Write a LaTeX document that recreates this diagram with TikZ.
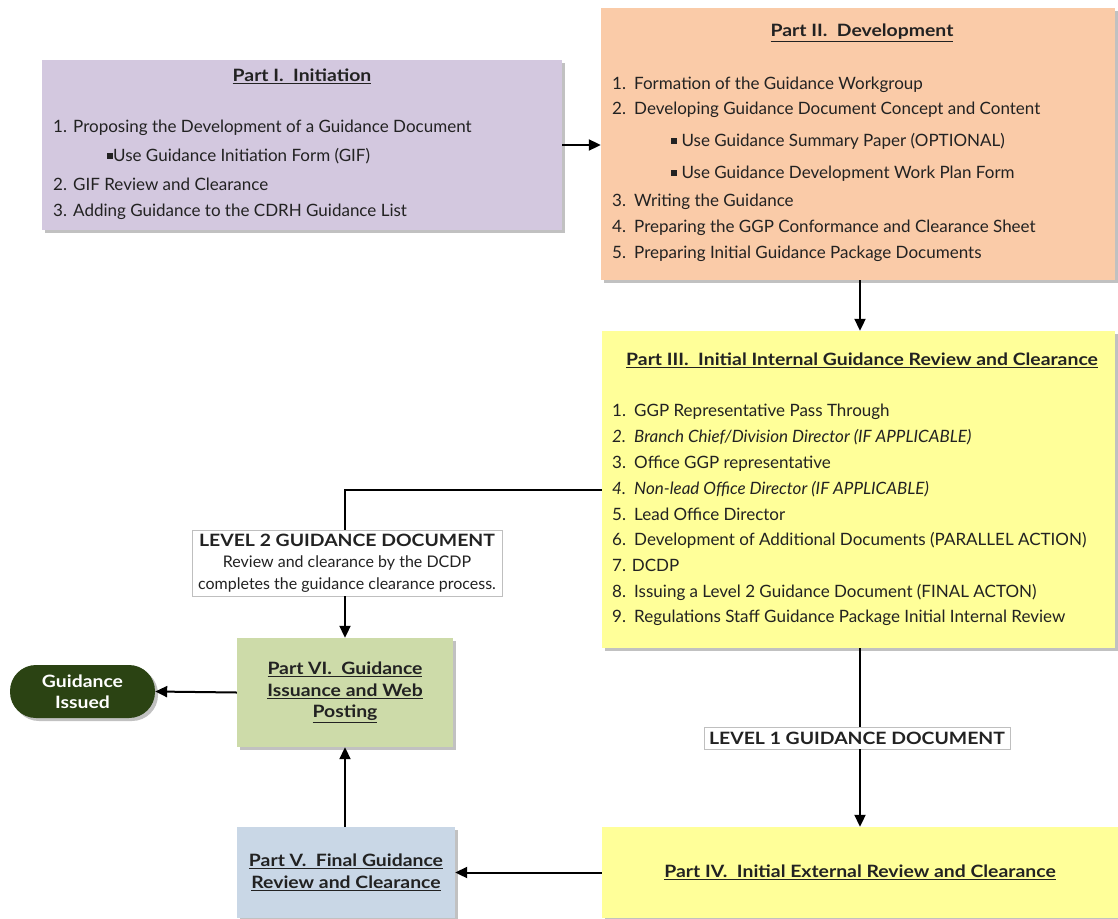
\documentclass[tikz,border=0pt]{standalone}
\usepackage{fontspec}
\setmainfont{Lato}
\newfontfamily\bwide[FakeStretch=1.14]{Lato}
\usetikzlibrary{arrows.meta,shadows}
\definecolor{lav}{HTML}{D3C8DF}
\definecolor{peach}{HTML}{FACBA8}
\definecolor{yel}{HTML}{FFFF99}
\definecolor{grn}{HTML}{CDDBA9}
\definecolor{blu}{HTML}{C9D7E6}
\definecolor{dgrn}{HTML}{2B4313}
\definecolor{txt}{HTML}{222222}
\begin{document}
\begin{tikzpicture}[x=1pt,y=-1pt,
 box/.style={draw=none, inner sep=0pt, text=txt, align=center,
   drop shadow={shadow xshift=3pt,shadow yshift=-3pt,fill=black!30,opacity=0.8}},
 ttl/.style={font=\fontsize{17}{20}\bwide\bfseries, inner sep=0pt, text=txt},
 item/.style={font=\fontsize{17}{20}\selectfont, inner sep=0pt, anchor=west, text height=12pt, text depth=4pt, text=txt},
 lbl/.style={draw=black!25, fill=white, inner sep=0pt, align=center, text=txt},
 arr/.style={line width=2pt, -{Triangle[length=12pt,width=11pt]}},
 ln/.style={line width=2pt}]
\path[use as bounding box] (0,0) rectangle (1118,918);

% boxes
\node[box, fill=lav, minimum width=520pt, minimum height=170pt] (p1) at (302,145) {};
\node[box, fill=peach, minimum width=514pt, minimum height=272pt] (p2) at (858,144) {};
\node[box, fill=yel, minimum width=513pt, minimum height=317pt] (p3) at (858.5,489.5) {};
\node[box, fill=yel, minimum width=516pt, minimum height=91pt,
  font=\fontsize{17}{20}\bwide\bfseries] (p4) at (860,872.5) {\underline{Part IV.\ \ Initial External Review and Clearance}};
\node[box, fill=blu, minimum width=218pt, minimum height=91pt,
  font=\fontsize{17}{22}\bwide\bfseries] (p5) at (346,872.5) {\underline{Part V.\ \ Final Guidance}\\\underline{Review and Clearance}};
\node[box, fill=grn, minimum width=216pt, minimum height=109pt,
  font=\fontsize{17}{21.5}\bwide\bfseries] (p6) at (345,692.5) {\underline{Part VI.\ \ Guidance}\\\underline{Issuance and Web}\\\underline{Posting}};
\node[box, fill=dgrn, text=white, rounded corners=26pt, minimum width=145pt, minimum height=53pt,
  font=\fontsize{17}{21}\bwide\bfseries] (gi) at (82.5,691.5) {Guidance\\Issued};

% Part I text
\node[ttl] (t1) at (302,76) {\underline{Part I.\ \ Initiation}};
\node[item] (a1n) at (53,128) {1.};
\node[item] (a1) at (73,128) {Proposing the Development of a Guidance Document};
\node[item] (a1b) at (107,157) {\rule[2pt]{6pt}{6pt}Use Guidance Initiation Form (GIF)};
\node[item] (a2n) at (53,186) {2.};
\node[item] (a2) at (73,186) {GIF Review and Clearance};
\node[item] (a3n) at (53,212) {3.};
\node[item] (a3) at (73,212) {Adding Guidance to the CDRH Guidance List};

% Part II text
\node[ttl] (t2) at (862,33) {\underline{Part II.\ \ Development}};
\node[item] (b1n) at (612,85) {1.};
\node[item] (b1) at (634,85) {Formation of the Guidance Workgroup};
\node[item] (b2n) at (612,110) {2.};
\node[item] (b2) at (634,110) {Developing Guidance Document Concept and Content};
\node[item] (b2a) at (671,142) {\rule[2pt]{6pt}{6pt}\ Use Guidance Summary Paper (OPTIONAL)};
\node[item] (b2b) at (671,174) {\rule[2pt]{6pt}{6pt}\ Use Guidance Development Work Plan Form};
\node[item] (b3n) at (612,202) {3.};
\node[item] (b3) at (634,202) {Writing the Guidance};
\node[item] (b4n) at (612,228) {4.};
\node[item] (b4) at (634,228) {Preparing the GGP Conformance and Clearance Sheet};
\node[item] (b5n) at (612,254) {5.};
\node[item] (b5) at (634,254) {Preparing Initial Guidance Package Documents};

% Part III text
\node[ttl] (t3) at (862,360) {\underline{Part III.\ \ Initial Internal Guidance Review and Clearance}};
\node[item] (c1n) at (612,412) {1.};
\node[item] (c1) at (634,412) {GGP Representative Pass Through};
\node[item] (c2n) at (612,438) {\itshape 2.};
\node[item] (c2) at (634,438) {\itshape Branch Chief/Division Director (IF APPLICABLE)};
\node[item] (c3n) at (612,464) {3.};
\node[item] (c3) at (634,464) {Office GGP representative};
\node[item] (c4n) at (612,490) {\itshape 4.};
\node[item] (c4) at (634,490) {\itshape Non-lead Office Director (IF APPLICABLE)};
\node[item] (c5n) at (612,516) {5.};
\node[item] (c5) at (634,516) {Lead Office Director};
\node[item] (c6n) at (612,541) {6.};
\node[item] (c6) at (634,541) {Development of Additional Documents (PARALLEL ACTION)};
\node[item] (c7) at (612,567) {7. DCDP};
\node[item] (c8n) at (612,593) {8.};
\node[item] (c8) at (634,593) {Issuing a Level 2 Guidance Document (FINAL ACTON)};
\node[item] (c9n) at (612,618) {9.};
\node[item] (c9) at (634,618) {Regulations Staff Guidance Package Initial Internal Review};

% labels
\node[lbl, minimum width=310pt, minimum height=66pt, font=\fontsize{16}{21.5}\selectfont] (l2) at (347,563)
  {{\bwide\bfseries\fontsize{17}{21.5}\selectfont LEVEL 2 GUIDANCE DOCUMENT}\\
   Review and clearance by the DCDP\\
   completes the guidance clearance process.};
\node[lbl, minimum width=306pt, minimum height=22pt, font=\fontsize{17}{20}\bwide\bfseries] (l1) at (857,738) {LEVEL 1 GUIDANCE DOCUMENT};

% connectors
\draw[arr] (p1.east) -- (p1.east -| p2.west);
\draw[arr] (p2.south -| 860,0) -- (p3.north -| 860,0);
\draw[ln] (p3.west) -| (l2.north -| p6.north);
\draw[arr] (l2.south -| p6.north) -- (p6.north);
\draw[ln] (p3.south -| 860,0) -- (l1.north -| 860,0);
\draw[arr] (l1.south -| 860,0) -- (p4.north -| 860,0);
\draw[arr] (p4.west) -- (p5.east);
\draw[arr] (p5.north -| p6.south) -- (p6.south);
\draw[arr] (p6.west) -- (gi.east);
\end{tikzpicture}
\end{document}
